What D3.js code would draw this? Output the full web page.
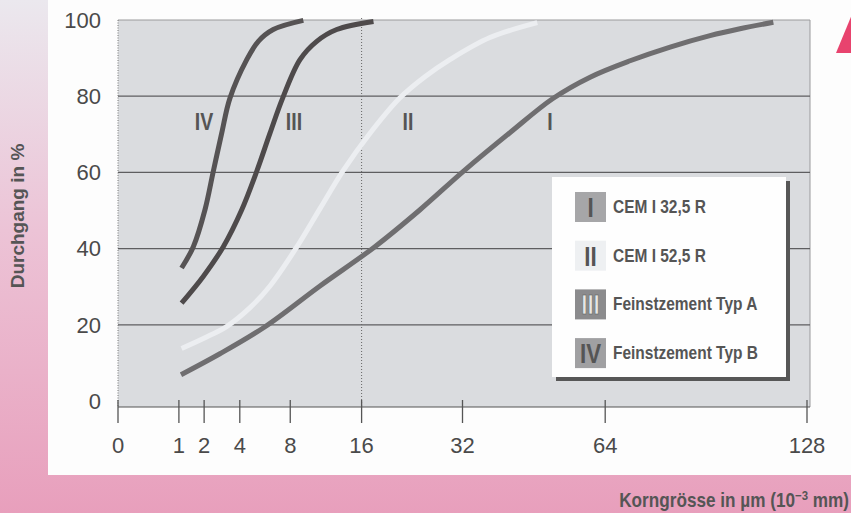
<!DOCTYPE html>
<html>
<head>
<meta charset="utf-8">
<script src="https://cdn.jsdelivr.net/npm/d3@7"></script>
<style>
  body { margin: 0; background: #fff; }
  svg { display: block; }
  .bold { font-family: "Liberation Sans", Arial, sans-serif; font-weight: bold; }
  .num { font-family: "Liberation Sans", Arial, sans-serif; }
</style>
</head>
<body>
<div id="chart"></div>
<script>
// axis ticks
const xTicks = [0, 1, 2, 4, 8, 16, 32, 64, 128];
const yTicks = [0, 20, 40, 60, 80, 100];

// series
const series = ["I", "II", "III", "IV"];
const legendLabels = ["CEM I 32,5 R", "CEM I 52,5 R", "Feinstzement Typ A", "Feinstzement Typ B"];

// grain size (µm) / passing (%)
const curveI = [[1.07, 6.9], [2.8, 12.4], [5.83, 19.5], [11.0, 30.2], [17.8, 40.5], [24.6, 50.2], [32.1, 60.2], [41.4, 70.4], [51.0, 79.4], [60.1, 85.0], [70.7, 89.3], [82.2, 92.9], [94.5, 95.9], [104.3, 97.7], [115.8, 99.4]];
const curveII = [[1.09, 13.8], [2.04, 16.6], [3.2, 19.6], [4.7, 24.5], [6.23, 30.2], [8.64, 40.5], [11.0, 50.5], [13.65, 60.4], [17.1, 70.2], [21.4, 79.5], [25.4, 85.1], [29.7, 89.6], [37.3, 95.4], [47.4, 99.3]];
const curveIII = [[1.09, 25.7], [1.96, 32.7], [2.99, 40.5], [4.13, 50.2], [5.19, 60.3], [6.23, 70.3], [7.31, 79.5], [8.93, 89.6], [10.65, 94.4], [12.9, 97.5], [17.6, 99.6]];
const curveIV = [[1.09, 34.9], [1.53, 40.5], [2.04, 50.2], [2.45, 60.3], [2.9, 70.3], [3.38, 79.5], [4.47, 89.6], [5.31, 94.4], [6.5, 97.5], [9.26, 99.9]];

const curves = [curveI, curveII, curveIII, curveIV];
const strokes = ["#6f6e70", "#eceef1", "#4e4a4b", "#565354"];
const swatchFill = ["#a6a6a8", "#eef0f2", "#8b8b8d", "#a0a0a2"];
const swatchText = ["#555", "#555", "#e6e6e6", "#555"];

const W = 851, H = 513;
const svg = d3.select("#chart").append("svg")
    .attr("width", W)
    .attr("height", H);

// background gradient (pink)
const defs = svg.append("defs");
const grad = defs.append("linearGradient")
    .attr("id", "bg").attr("x1", 0).attr("y1", 0).attr("x2", 0).attr("y2", 1);
grad.append("stop").attr("offset", "0%").attr("stop-color", "#ebe8ee");
grad.append("stop").attr("offset", "45%").attr("stop-color", "#ecc3d6");
grad.append("stop").attr("offset", "100%").attr("stop-color", "#e89fbc");

svg.append("rect").attr("width", W).attr("height", H).attr("fill", "url(#bg)");
svg.append("rect").attr("x", 48).attr("y", 0).attr("width", W - 48).attr("height", 475).attr("fill", "#fdfdfd");

// little red triangle top right
svg.append("path")
    .attr("d", "M836,53 L853,12 L853,53 Z")
    .attr("fill", "#e8436e");

const x = d3.scaleSqrt().domain([0, 128]).range([118, 807]);
const y = d3.scaleLinear().domain([0, 100]).range([401, 20]);
const plotRight = 810, plotBottom = 407;

// plot area
svg.append("rect")
    .attr("x", 118).attr("y", y(100))
    .attr("width", plotRight - 118).attr("height", plotBottom - y(100))
    .attr("fill", "#dadcdf");

// frame top / right / left
svg.append("line").attr("x1", 118).attr("x2", plotRight).attr("y1", y(100)).attr("y2", y(100))
    .attr("stroke", "#9a9a9c").attr("stroke-width", 1);
svg.append("line").attr("x1", plotRight).attr("x2", plotRight).attr("y1", y(100)).attr("y2", plotBottom)
    .attr("stroke", "#9a9a9c").attr("stroke-width", 1);
svg.append("line").attr("x1", 118).attr("x2", 118).attr("y1", y(100)).attr("y2", plotBottom)
    .attr("stroke", "#777").attr("stroke-width", 1).attr("stroke-dasharray", "1,1.5");

// gridlines
svg.append("g")
  .selectAll("line")
  .data(yTicks.filter(d => d > 0 && d < 100))
  .join("line")
    .attr("x1", 118).attr("x2", plotRight)
    .attr("y1", d => y(d)).attr("y2", d => y(d))
    .attr("stroke", "#5e5e60").attr("stroke-width", 1.2);

// dotted line at 16
svg.append("line")
    .attr("x1", x(16)).attr("x2", x(16)).attr("y1", y(100) - 2).attr("y2", plotBottom)
    .attr("stroke", "#666").attr("stroke-width", 1).attr("stroke-dasharray", "1,2");

// y tick labels
svg.append("g")
  .selectAll("text")
  .data(yTicks)
  .join("text")
    .attr("class", "num")
    .attr("x", 101)
    .attr("y", d => y(d))
    .attr("dy", "0.35em")
    .attr("text-anchor", "end")
    .attr("font-size", 22)
    .attr("fill", "#4a4a4a")
    .text(d => d);

// x axis
svg.append("line").attr("x1", 118).attr("x2", plotRight).attr("y1", plotBottom).attr("y2", plotBottom)
    .attr("stroke", "#555").attr("stroke-width", 1.2);
const xg = svg.append("g");
xg.selectAll("line")
  .data(xTicks)
  .join("line")
    .attr("x1", d => x(d)).attr("x2", d => x(d))
    .attr("y1", 400).attr("y2", 423)
    .attr("stroke", "#555").attr("stroke-width", 1.3);
xg.selectAll("text")
  .data(xTicks)
  .join("text")
    .attr("class", "num")
    .attr("x", d => x(d))
    .attr("y", 453)
    .attr("text-anchor", "middle")
    .attr("font-size", 22)
    .attr("fill", "#4a4a4a")
    .text(d => d);

// curves
const line = d3.line()
    .x(d => x(d[0]))
    .y(d => y(d[1]))
    .curve(d3.curveCatmullRom.alpha(0.5));

svg.append("g")
  .selectAll("path")
  .data(curves)
  .join("path")
    .attr("fill", "none")
    .attr("stroke", (d, i) => strokes[i])
    .attr("stroke-width", 5)
    .attr("d", line);

// curve labels
const labelPos = [[550, 130], [408, 130], [294, 130], [204, 130]];
svg.append("g")
  .selectAll("text")
  .data(series)
  .join("text")
    .attr("class", "bold")
    .attr("transform", (d, i) => `translate(${labelPos[i][0]},${labelPos[i][1]}) scale(0.85,1)`)
    .attr("text-anchor", "middle")
    .attr("font-size", 23)
    .attr("fill", "#555")
    .text(d => d);

// legend
const lg = svg.append("g");
lg.append("rect").attr("x", 556).attr("y", 181).attr("width", 234).attr("height", 200).attr("fill", "#575757");
lg.append("rect").attr("x", 552).attr("y", 177).attr("width", 234).attr("height", 200).attr("fill", "#fefefe");

const items = lg.selectAll("g.item")
  .data(series)
  .join("g")
    .attr("class", "item")
    .attr("transform", (d, i) => `translate(575,${192 + i * 48.7})`);
items.append("rect")
    .attr("width", 31).attr("height", 30)
    .attr("fill", (d, i) => swatchFill[i]);
items.append("text")
    .attr("class", "bold")
    .attr("transform", "translate(15.5,25) scale(0.8,1)")
    .attr("text-anchor", "middle")
    .attr("font-size", 28)
    .attr("fill", (d, i) => swatchText[i])
    .attr("stroke", (d, i) => i === 2 ? "#555" : "none")
    .attr("stroke-width", 0.6)
    .text(d => d);
items.append("text")
    .attr("class", "bold")
    .attr("transform", "translate(38,21) scale(0.86,1)")
    .attr("font-size", 18)
    .attr("fill", "#555")
    .text((d, i) => legendLabels[i]);

// axis titles
svg.append("text")
    .attr("class", "bold")
    .attr("transform", "translate(24,216) rotate(-90)")
    .attr("text-anchor", "middle")
    .attr("font-size", 19)
    .attr("fill", "#555")
    .text("Durchgang in %");

const xt = svg.append("text")
    .attr("class", "bold")
    .attr("transform", "translate(849,507) scale(0.88,1)")
    .attr("text-anchor", "end")
    .attr("font-size", 19.5)
    .attr("fill", "#555");
xt.append("tspan").text("Korngrösse in µm (10");
xt.append("tspan").attr("dy", -7).attr("font-size", 13).text("−3");
xt.append("tspan").attr("dy", 7).text(" mm)");
</script>
</body>
</html>
